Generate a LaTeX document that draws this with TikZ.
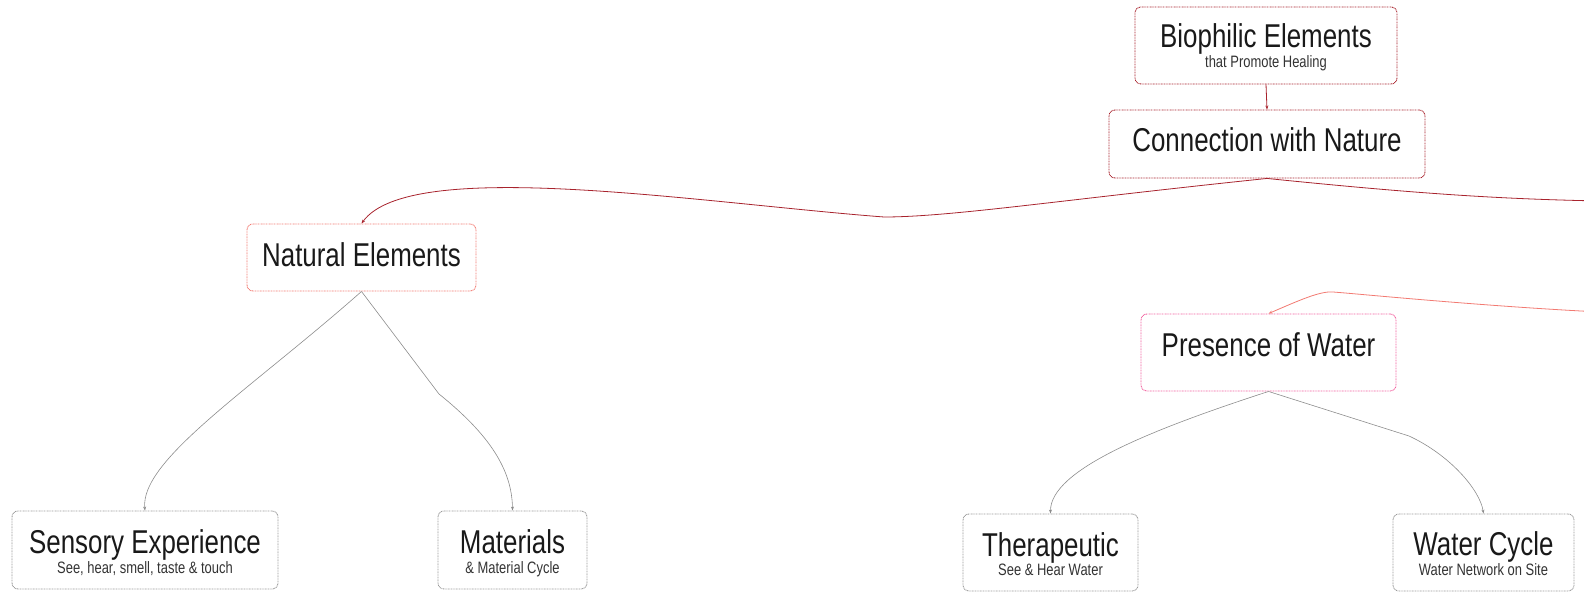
\documentclass[tikz,border=0pt]{standalone}
\usepackage{fontspec}
\newfontfamily\cond{Liberation Sans}[FakeStretch=0.785]
\usetikzlibrary{arrows.meta}
\definecolor{dred}{HTML}{A8232D}
\definecolor{salm}{HTML}{F27A72}
\definecolor{pinkb}{HTML}{F2609E}
\definecolor{greyb}{HTML}{9A9A9A}
\definecolor{greyl}{HTML}{8C8C8C}
\tikzset{
  box/.style={draw=#1, rounded corners=6pt, line width=0.9pt, dash pattern=on 0.9pt off 0.7pt, inner sep=0pt},
  ttl/.style={anchor=base, inner sep=0pt, font=\cond\fontsize{33}{33}\selectfont, text=black!90},
  sub/.style={anchor=base, inner sep=0pt, font=\cond\fontsize{16.5}{16.5}\selectfont, text=black!80},
  tip/.style={-{Stealth[length=4pt,width=3pt]}},
  redline/.style={tip, draw=dred, line width=0.8pt},
  salmline/.style={tip, draw=salm, line width=0.8pt},
  greyline/.style={tip, draw=greyl, line width=0.6pt},
}
\begin{document}
\begin{tikzpicture}[x=1pt,y=-1pt]
\useasboundingbox (0,0) rectangle (1584,593);
\clip (0,0) rectangle (1584,593);
% boxes
\node[box=dred, minimum width=262pt, minimum height=77pt] (bio) at (1266,45.5) {};
\node[box=dred, minimum width=316pt, minimum height=68pt] (con) at (1267,144) {};
\node[box=salm, minimum width=229pt, minimum height=67pt] (nat) at (361.5,257.5) {};
\node[box=pinkb, minimum width=255pt, minimum height=77pt] (pre) at (1268.5,352.5) {};
\node[box=greyb, minimum width=266pt, minimum height=78pt] (sen) at (145,550) {};
\node[box=greyb, minimum width=149pt, minimum height=78pt] (mat) at (512.5,550) {};
\node[box=greyb, minimum width=175pt, minimum height=77pt] (the) at (1050.5,552.5) {};
\node[box=greyb, minimum width=181pt, minimum height=77pt] (wat) at (1483.5,552.5) {};
% texts
\node[ttl] (bio-t) at (1266,48) {Biophilic Elements};
\node[sub] (bio-s) at (1266,68) {that Promote Healing};
\node[ttl] (con-t) at (1267,152) {Connection with Nature};
\node[ttl] (nat-t) at (361.5,267) {Natural Elements};
\node[ttl] (pre-t) at (1268.5,356) {Presence of Water};
\node[ttl] (sen-t) at (145,553) {Sensory Experience};
\node[sub] (sen-s) at (145,573) {See, hear, smell, taste \& touch};
\node[ttl] (mat-t) at (512.5,553) {Materials};
\node[sub] (mat-s) at (512.5,573) {\& Material Cycle};
\node[ttl] (the-t) at (1050.5,556) {Therapeutic};
\node[sub] (the-s) at (1050.5,575) {See \& Hear Water};
\node[ttl] (wat-t) at (1483.5,555) {Water Cycle};
\node[sub] (wat-s) at (1483.5,575) {Water Network on Site};
% off-canvas ends
\coordinate (offA) at (1600,201);
\coordinate (offB) at (1600,312);
% connectors
\draw[redline] (bio.south) -- (con.north);
\draw[redline] (con.south) .. controls (1060,200) and (950,217) .. (884,217)
   .. controls (700,203) and (410,156) .. (nat.north);
\draw[redline, -] (con.south) .. controls (1420,194) and (1500,199) .. (offA);
\draw[salmline] (offB) .. controls (1480,306) and (1360,294) .. (1333,292)
   .. controls (1320,291) and (1300,300) .. (pre.north);
\draw[greyline] (nat.south) .. controls (250,390) and (140,460) .. (sen.north);
\draw[greyline] (nat.south) -- (439,394) .. controls (490,435) and (512,470) .. (mat.north);
\draw[greyline] (pre.south) .. controls (1150,430) and (1050,470) .. (the.north);
\draw[greyline] (pre.south) -- (1409,436) .. controls (1450,455) and (1480,490) .. (wat.north);
\end{tikzpicture}
\end{document}
